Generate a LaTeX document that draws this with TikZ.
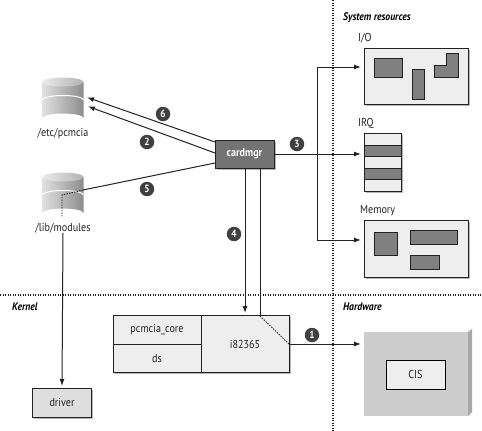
\documentclass[tikz,border=0pt]{standalone}
\usepackage{fontspec}
\setmainfont[FakeStretch=0.88]{PT Sans}
\usetikzlibrary{positioning, arrows.meta, shadows}
\definecolor{inkgray}{HTML}{222222}
\definecolor{blockgray}{HTML}{808080}
\definecolor{panelgray}{HTML}{EEEEEE}
\definecolor{hwgray}{HTML}{CCCCCC}
\definecolor{hwside}{HTML}{A8A8A8}
\tikzset{
  softshadow/.style={drop shadow={shadow xshift=1.5pt, shadow yshift=-1.5pt, fill=black!40, opacity=0.7}},
  panel/.style={draw=inkgray, line width=0.9pt, fill=panelgray, inner sep=0pt, outer sep=0pt, softshadow},
  block/.style={draw=inkgray, line width=1pt, fill=blockgray},
  flow/.style={-{Latex[length=7pt,width=5pt]}, line width=1pt, draw=inkgray, shorten >=1pt},
  wire/.style={line width=1pt, draw=inkgray},
  boundary/.style={line width=1.7pt, dash pattern=on 1.4pt off 1.1pt, draw=inkgray},
  hop/.style={line width=0.9pt, dash pattern=on 1.4pt off 1.2pt, draw=inkgray},
  callout/.style={circle, fill=black!75, text=white, font=\fontsize{10.5}{10}\selectfont\bfseries, inner sep=0pt, minimum size=14.5pt},
  heading/.style={anchor=west, inner sep=0pt, text=black, font=\fontsize{11}{13}\selectfont\bfseries\itshape},
  caption/.style={inner sep=0pt, text=inkgray, font=\fontsize{11.5}{13}\selectfont},
}
\begin{document}
\begin{tikzpicture}[x=1pt, y=-1pt]
    \useasboundingbox (0,0) rectangle (482,431);

    % Domain boundaries
    \coordinate (vtop) at (333,0);
    \coordinate (vend) at (333,431);
    \coordinate (hleft) at (0,295);
    \coordinate (hright) at (482,295);
    \draw[boundary] (vtop) -- (vend);
    \draw[boundary] (hleft) -- (hright);
    \node[heading] (syshead) at (343,18) {System resources};
    \node[heading] (kernhead) at (12,307) {Kernel};
    \node[heading] (hwhead) at (343,307) {Hardware};

    % Disks
    \foreach \name/\ypos/\txt in {etcdb/100/{/etc/pcmcia}, libdb/195/{/lib/modules}} {
        \node[minimum width=41pt, minimum height=45pt, inner sep=0pt] (\name) at (63,\ypos) {};
        \begin{scope}[shift={(63,\ypos)}]
            \shade[left color=black!12, right color=black!45] (-20.5,-18) -- (-20.5,18) arc[start angle=180, delta angle=180, x radius=20.5, y radius=4.5] -- (20.5,-18) -- cycle;
            \shade[left color=black!8, right color=black!30] (0,-18) ellipse[x radius=20.5, y radius=4.5];
            \draw[white, line width=1pt] (-20.5,0) arc[start angle=180, delta angle=180, x radius=20.5, y radius=4.5];
        \end{scope}
        \node[caption, below=5pt of \name] (\name label) {\txt};
    }

    % Manager
    \node[draw=inkgray, line width=1pt, fill=black!55, text=white, minimum width=59pt, minimum height=28pt, inner sep=0pt, font=\fontsize{11.5}{13}\selectfont\bfseries, softshadow] (cardmgr) at (244.5,154) {cardmgr};
    \coordinate (outsix) at (215,142);
    \coordinate (outtwo) at (215,153);
    \coordinate (outfive) at (215,163);
    \coordinate (insix) at (86,97);
    \coordinate (intwo) at (87,106);
    \coordinate (libedge) at (83,190);
    \coordinate (libbend) at (62,195);
    \coordinate (libfoot) at (62,217);
    \draw[flow] (outsix) -- (insix);
    \draw[flow] (outtwo) -- (intwo);
    \draw[wire] (outfive) -- (libedge);
    \draw[hop] (libedge) -- (libbend) -- (libfoot);

    % Driver
    \node[panel, fill=black!13, minimum width=59pt, minimum height=29pt, font=\fontsize{11.5}{13}\selectfont, text=inkgray] (driver) at (62,402.5) {driver};
    \draw[flow, shorten >=2pt] (libdblabel.south) -- (driver.north);

    % Card services
    \node[panel, minimum width=88pt, minimum height=28.5pt, font=\fontsize{11.5}{13}\selectfont, text=inkgray] (core) at (157,330) {pcmcia\_core};
    \node[panel, minimum width=88pt, minimum height=28.5pt, font=\fontsize{11.5}{13}\selectfont, text=inkgray, below=0pt of core] (ds) {ds};
    \node[panel, minimum width=88pt, minimum height=57pt, font=\fontsize{11.5}{13}\selectfont, text=inkgray, anchor=north west] (socket) at (core.north east) {i82365};
    \coordinate (taptop) at (260,168);
    \coordinate (tapin) at (260,316);
    \coordinate (tapout) at (289,344);
    \coordinate (feedtop) at (245,168);
    \coordinate (feedend) at (245,316);
    \draw[flow, shorten >=3pt] (feedtop) -- (feedend);
    \draw[wire] (taptop) -- (tapin);
    \draw[hop] (tapin) -- (tapout);

    % Hardware card
    \node[draw=none, fill=hwgray, minimum width=104pt, minimum height=84pt, inner sep=0pt] (card) at (416,374) {};
    \fill[hwside] (card.north east) -- ++(4,-3) -- ++(0,83) -- (card.south east) -- cycle;
    \node[draw=black, line width=0.9pt, fill=panelgray, inner sep=0pt, minimum width=59pt, minimum height=29pt, font=\fontsize{11.5}{13}\selectfont, text=inkgray] (cis) at (415.5,374.5) {CIS};
    \coordinate (cardin) at (362,344);
    \draw[flow] (tapout) -- (cardin);

    % Resource panels
    \node[panel, minimum width=104pt, minimum height=56pt] (iopanel) at (416,76) {};
    \node[panel, minimum width=104pt, minimum height=57pt] (mempanel) at (416,248.5) {};
    \foreach \idx/\ypos/\tone in {1/139.5/panelgray, 2/151/blockgray, 3/162.5/panelgray, 4/174/blockgray, 5/185.5/panelgray} {
        \node[panel, fill=\tone, minimum width=37pt, minimum height=11.5pt] (irq\idx) at (382.5,\ypos) {};
    }
    \node[caption, anchor=west] (iolabel) at (358,38) {I/O};
    \node[caption, anchor=west] (irqlabel) at (358,123) {IRQ};
    \node[caption, anchor=west] (memlabel) at (360,211) {Memory};

    % Allocations
    \draw[block] (374,58) rectangle (402,77);
    \draw[block] (412,69) rectangle (424,99);
    \draw[block] (434,65) -- (446,65) -- (446,53) -- (458,53) -- (458,77) -- (434,77) -- cycle;
    \draw[block] (374,232) rectangle (397,255);
    \draw[block] (410,230) rectangle (457,244);
    \draw[block] (410,255) rectangle (439,269);

    % Resource bus
    \coordinate (bus) at (317,154);
    \coordinate (bustop) at (317,67);
    \coordinate (busend) at (317,240);
    \coordinate (ioin) at (362,67);
    \coordinate (irqin) at (362,154);
    \coordinate (memin) at (362,240);
    \draw[wire] (cardmgr.east) -- (bus);
    \draw[flow] (bus) -- (irqin);
    \draw[flow] (bus) -- (bustop) -- (ioin);
    \draw[flow] (bus) -- (busend) -- (memin);

    % Step numbers
    \node[callout] (stepone) at (312,335) {1};
    \node[callout] (steptwo) at (147,142) {2};
    \node[callout] (stepthree) at (297,144) {3};
    \node[callout] (stepfour) at (234,234) {4};
    \node[callout] (stepfive) at (147,189) {5};
    \node[callout] (stepsix) at (163,114) {6};
\end{tikzpicture}
\end{document}
